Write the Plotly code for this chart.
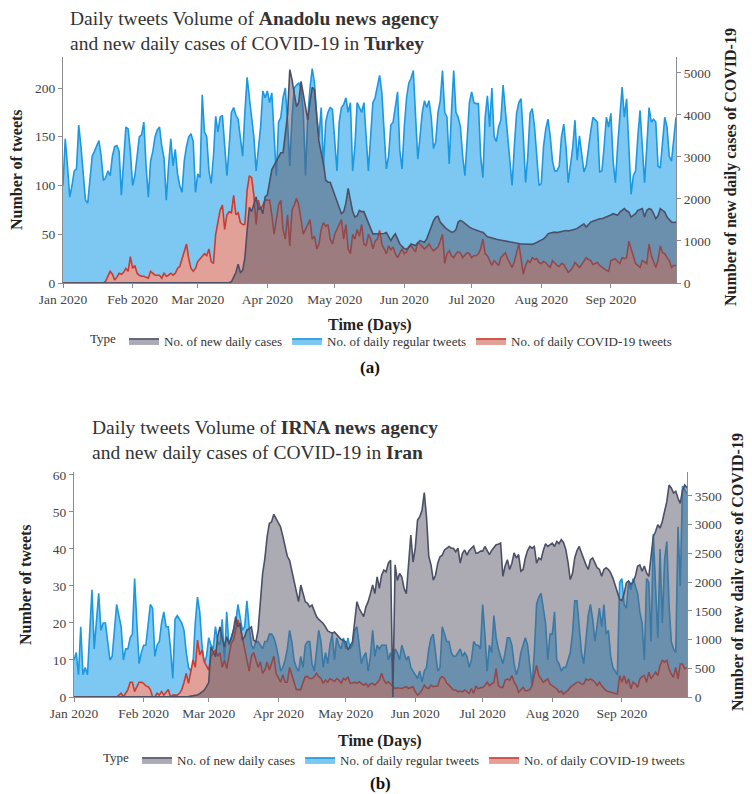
import pandas as pd
import plotly.graph_objects as go

START = "2020-01-01"
N_DAYS = 274

series_names = ["No. of new daily cases", "No. of daily regular tweets", "No. of daily COVID-19 tweets"]

# ---------------- Turkey (Anadolu) ----------------
tr_regular = [
    # Jan
    100, 148, 120, 88, 100, 115, 117, 162, 140, 115, 85, 82, 110, 130, 135, 140, 146, 130, 105, 108, 115,
    110, 130, 140, 141, 135, 90, 125, 160, 158, 135,
    # Feb
    100, 110, 130, 150, 152, 165, 120, 88, 125, 135, 150, 157, 160, 140, 128, 85, 120, 148, 120, 137, 112,
    100, 93, 125, 140, 150, 153, 145, 93,
    # Mar
    112, 108, 193, 155, 150, 115, 102, 130, 171, 155, 170, 172, 140, 110, 140, 175, 180, 172, 168, 150, 130,
    175, 211, 190, 170, 150, 115, 140, 160, 197, 190,
    # Apr
    197, 185, 195, 150, 110, 165, 170, 190, 200, 165, 120, 170, 200, 203, 205, 200, 175, 110, 170, 200, 220,
    205, 170, 150, 180, 120, 165, 175, 180, 178,
    # May
    150, 115, 165, 180, 183, 190, 175, 185, 115, 140, 185, 180, 175, 185, 150, 115, 150, 185, 190, 200, 213,
    195, 150, 117, 130, 162, 165, 180, 196, 136, 117,
    # Jun
    160, 190, 205, 210, 218, 170, 127, 150, 175, 187, 180, 187, 170, 138, 145, 175, 187, 218, 175, 170, 122,
    175, 218, 175, 170, 160, 130, 110, 150, 185,
    # Jul
    196, 185, 184, 184, 130, 108, 170, 192, 160, 200, 150, 145, 160, 167, 203, 175, 150, 120, 100, 140, 174,
    185, 189, 150, 103, 130, 174, 179, 160, 130, 100,
    # Aug
    102, 140, 158, 168, 150, 125, 115, 115, 120, 150, 163, 140, 103, 120, 139, 167, 126, 151, 130, 114, 120,
    140, 155, 170, 168, 165, 114, 115, 140, 170, 160,
    # Sep
    174, 125, 103, 140, 175, 201, 170, 189, 140, 91, 110, 115, 150, 177, 140, 103, 140, 180, 165, 168, 165,
    120, 118, 145, 170, 160, 130, 125, 150, 170,
]

tr_covid = [
    # Jan
    0, 0, 0, 0, 0, 0, 0, 0, 0, 0, 0, 0, 0, 0, 0, 0, 0, 0, 0, 2, 7, 12, 9, 3, 6, 10, 9, 11, 15, 12, 27,
    # Feb
    15, 18, 10, 8, 7, 7, 6, 5, 12, 10, 8, 8, 8, 5, 10, 7, 8, 10, 8, 10, 15, 17, 25, 32, 40, 25, 15, 12, 15,
    # Mar
    22, 25, 28, 30, 28, 35, 22, 20, 50, 62, 75, 80, 55, 70, 73, 72, 90, 70, 72, 62, 60, 60, 95, 110, 108,
    90, 60, 85, 75, 80, 85,
    # Apr
    85, 85, 70, 50, 65, 80, 85, 55, 45, 70, 38, 75, 80, 87, 80, 65, 50, 55, 60, 65, 45, 48, 35, 40, 55, 62,
    58, 60, 45, 40,
    # May
    50, 55, 60, 65, 45, 60, 35, 30, 50, 45, 55, 48, 60, 40, 38, 50, 45, 35, 43, 45, 54, 40, 35, 30, 38, 34,
    37, 30, 26, 30, 35,
    # Jun
    30, 32, 37, 38, 35, 32, 42, 40, 38, 35, 37, 40, 36, 33, 35, 37, 43, 50, 20, 30, 33, 28, 26, 30, 32, 31,
    26, 28, 31, 30,
    # Jul
    26, 28, 28, 30, 35, 45, 30, 28, 22, 18, 23, 20, 18, 26, 28, 31, 25, 21, 16, 22, 30, 40, 25, 9, 18, 23,
    21, 26, 24, 25, 21,
    # Aug
    20, 22, 21, 18, 16, 23, 20, 18, 17, 20, 19, 15, 11, 13, 16, 21, 18, 16, 19, 22, 26, 24, 23, 19, 20, 21,
    18, 16, 14, 13, 12,
    # Sep
    23, 24, 25, 22, 20, 26, 25, 26, 43, 35, 28, 20, 18, 16, 23, 21, 20, 40, 28, 22, 16, 23, 38, 31, 30, 26,
    23, 16, 18, 18,
]

tr_cases = [
    # Jan
    0, 0, 0, 0, 0, 0, 0, 0, 0, 0, 0, 0, 0, 0, 0, 0, 0, 0, 0, 0, 0, 0, 0, 0, 0, 0, 0, 0, 0, 0, 0,
    # Feb
    0, 0, 0, 0, 0, 0, 0, 0, 0, 0, 0, 0, 0, 0, 0, 0, 0, 0, 0, 0, 0, 0, 0, 0, 0, 0, 0, 0, 0,
    # Mar
    0, 0, 0, 0, 0, 0, 0, 0, 0, 0, 0, 0, 0, 0, 10, 30, 140, 250, 450, 250, 300, 600, 1250, 1800, 1700, 1900,
    2050, 1750, 1800, 1650, 2050,
    # Apr
    2100, 2450, 2700, 2800, 2900, 3000, 3100, 3100, 3500, 4000, 5080, 4840, 4500, 4200, 4300, 4800, 4500,
    4200, 3880, 4300, 4660, 4600, 3880, 3360, 3100, 2850, 2450, 2400, 2400, 2250,
    # May
    2050, 1900, 1800, 1650, 1700, 1900, 2250, 1970, 1700, 1570, 1600, 1730, 1700, 1700, 1550, 1410, 1300,
    1170, 1170, 1170, 1180, 1170, 1180, 1200, 1100, 1010, 1100, 1170, 1050, 930, 870,
    # Jun
    820, 800, 850, 930, 900, 890, 950, 1010, 990, 970, 1050, 1210, 1370, 1480, 1570, 1590, 1450, 1380, 1330,
    1280, 1250, 1210, 1220, 1270, 1450, 1490, 1460, 1410, 1370, 1330,
    # Jul
    1300, 1280, 1250, 1230, 1220, 1210, 1150, 1100, 1090, 1070, 1050, 1040, 1030, 1020, 1010, 1000, 990,
    980, 970, 960, 950, 930, 930, 930, 930, 925, 915, 920, 940, 970, 980,
    # Aug
    1010, 1050, 1100, 1170, 1190, 1200, 1210, 1200, 1210, 1220, 1230, 1250, 1240, 1250, 1270, 1280, 1300,
    1330, 1380, 1410, 1330, 1380, 1450, 1470, 1490, 1510, 1530, 1530, 1550, 1570, 1600,
    # Sep
    1620, 1650, 1630, 1610, 1690, 1720, 1770, 1720, 1690, 1570, 1600, 1650, 1730, 1760, 1770, 1570, 1730,
    1770, 1750, 1650, 1530, 1600, 1770, 1730, 1690, 1570, 1500, 1450, 1440, 1450,
]

# ---------------- Iran (IRNA) ----------------
ir_regular = [
    # Jan
    10, 12, 6, 19, 6, 8, 6, 18, 29, 13, 20, 28, 18, 20, 20, 15, 10, 11, 18, 25, 22, 19, 10, 13, 13, 16, 17,
    32, 20, 9, 12,
    # Feb
    14, 14, 20, 25, 24, 11, 14, 15, 20, 23, 19, 19, 13, 5, 21, 22, 21, 20, 18, 12, 8, 7, 9, 20, 27, 23, 14,
    9, 11,
    # Mar
    16, 14, 13, 19, 15, 14, 21, 10, 23, 14, 16, 18, 20, 25, 22, 18, 19, 26, 19, 14, 13, 15, 15, 14, 13, 15,
    15, 17, 17, 16, 14,
    # Apr
    11, 7, 8, 10, 13, 18, 15, 10, 8, 7, 11, 8, 14, 15, 15, 9, 7, 13, 18, 15, 8, 12, 9, 14, 17, 10, 16, 14,
    13, 16,
    # May
    13, 16, 13, 14, 18, 19, 13, 9, 11, 12, 7, 11, 18, 11, 14, 13, 14, 14, 14, 10, 12, 9, 13, 12, 10, 14, 12,
    10, 11, 8, 7,
    # Jun
    6, 5, 7, 4, 7, 8, 13, 16, 17, 12, 7, 8, 19, 17, 15, 15, 12, 11, 11, 12, 13, 11, 12, 11, 8, 10, 15, 14,
    14, 13,
    # Jul
    25, 17, 7, 14, 12, 22, 16, 13, 11, 9, 12, 16, 16, 14, 9, 6, 8, 12, 14, 16, 14, 8, 3, 12, 25, 27, 28, 24,
    20, 10, 17,
    # Aug
    17, 23, 10, 9, 7, 8, 8, 10, 12, 17, 26, 26, 19, 12, 9, 15, 22, 25, 21, 15, 19, 24, 19, 25, 17, 18, 11, 8,
    7, 6, 31,
    # Sep
    32, 25, 24, 31, 29, 32, 30, 28, 23, 20, 10, 32, 31, 15, 44, 30, 16, 40, 20, 37, 42, 25, 15, 13, 12, 46,
    30, 57, 56, 55,
]

ir_covid = [
    # Jan
    0, 0, 0, 0, 0, 0, 0, 0, 0, 0, 0, 0, 0, 0, 0, 0, 0, 0, 0, 0, 0.5, 1, 0, 1, 2, 4, 4, 1.5, 3, 4, 4,
    # Feb
    3.7, 3, 2.8, 2, 0, 0, 1, 0.5, 1.5, 0.5, 1.2, 2, 0, 0.5, 0.5, 0.5, 1, 2, 4, 6.4, 3.7, 6.4, 10, 8, 15.4,
    11.4, 12.7, 9.5, 8.2,
    # Mar
    7.3, 11, 12, 12.7, 11, 12, 8, 10, 7.7, 11, 14.4, 15.4, 18.6, 20.8, 19, 16, 14, 11, 7, 11, 12, 10, 8, 9.5,
    6.4, 7.3, 9.5, 7.3, 9.5, 11, 6.4,
    # Apr
    5, 4, 6, 4, 4, 8, 6, 4, 2, 2, 2, 4, 5.5, 5.5, 5, 5, 5.5, 6.4, 5.5, 5, 3.7, 4.6, 4, 5, 4.6, 4.2, 5, 4.6,
    3.7, 5,
    # May
    4.6, 5.5, 3.7, 3.7, 4, 3.7, 4.1, 3.7, 3.2, 3.7, 2.8, 3.5, 3.7, 3.2, 4, 4.6, 6.4, 4.6, 3.7, 4.1, 3.5, 2.8,
    2.3, 2.5, 2.3, 2.3, 2.6, 2.8, 2.3, 2.5, 2.8,
    # Jun
    1.4, 0.5, 1, 1.9, 3.2, 2.5, 2.3, 3.2, 2.8, 2.8, 3, 5, 5.5, 5, 3.7, 3.2, 2.5, 1.9, 1.9, 1.4, 1.6, 1.4, 1.9,
    1.5, 1, 2.3, 1, 3, 2.2, 2.5,
    # Jul
    2.6, 3.1, 4, 3.1, 3.5, 4, 7.7, 3.1, 2.6, 2.6, 4.5, 4.9, 4.5, 5.8, 4, 3.1, 1.3, 2, 2.6, 1.7, 1.7, 2, 3.1,
    6, 8.5, 5.8, 4.9, 4, 4.5, 4.9, 3.5,
    # Aug
    3, 2.6, 2.2, 1.3, 1.6, 0.8, 1.3, 1.8, 2.6, 3.1, 3.5, 4, 4, 3.5, 3.5, 4.9, 4.5, 4.9, 4.5, 4, 3.1, 4, 3,
    2.2, 1.7, 1.5, 1.3, 1.3, 1, 0.8, 5.8,
    # Sep
    4, 5.8, 3.5, 4.9, 2.2, 4, 3.5, 2.6, 4.9, 5.5, 5.8, 4, 6.7, 4.9, 6, 6.7, 5.8, 8.5, 9.9, 9.4, 9.9, 7.6,
    6.2, 5.3, 8, 4.9, 8.9, 8.9, 7.6, 8,
]

ir_cases = [
    # Jan
    0, 0, 0, 0, 0, 0, 0, 0, 0, 0, 0, 0, 0, 0, 0, 0, 0, 0, 0, 0, 0, 0, 0, 0, 0, 0, 0, 0, 0, 0, 0,
    # Feb
    0, 0, 0, 0, 0, 0, 0, 0, 0, 0, 0, 0, 0, 0, 0, 0, 0, 0, 5, 10, 10, 15, 20, 30, 35, 60, 90, 120, 180,
    # Mar
    250, 875, 790, 700, 1050, 1220, 1020, 875, 1050, 930, 1020, 1165, 1400, 1220, 1280, 990, 1050, 1165,
    1190, 1220, 990, 960, 1165, 1630, 2150, 2410, 2790, 3020, 3050, 3180, 3110,
    # Apr
    3050, 2960, 2800, 2600, 2450, 2380, 2200, 2000, 1800, 1660, 1950, 1800, 1660, 1630, 1570, 1600, 1480,
    1400, 1350, 1310, 1280, 1220, 1150, 1130, 1110, 1130, 1080, 1050, 1000, 990,
    # May
    960, 820, 900, 960, 1310, 1660, 1540, 1480, 1400, 1570, 1660, 1800, 1950, 1800, 2090, 1890, 2120, 2210,
    2180, 2330, 2380, 0, 2300, 2030, 2150, 2090, 1890, 1800, 2260, 2820, 2350,
    # Jun
    2600, 3080, 3140, 3250, 3560, 3130, 2450, 2300, 2035, 2120, 2330, 2440, 2470, 2560, 2590, 2620, 2590,
    2590, 2530, 2590, 2330, 2500, 2560, 2470, 2550, 2600, 2630, 2500, 2510, 2540,
    # Jul
    2540, 2620, 2560, 2480, 2550, 2600, 2650, 2660, 2680, 2100, 2280, 2390, 2220, 2330, 2510, 2420, 2480,
    2190, 2220, 2420, 2550, 2620, 2590, 2620, 2330, 2420, 2390, 2550, 2670, 2620, 2650,
    # Aug
    2680, 2620, 2710, 2670, 2740, 2690, 2570, 2350, 2045, 2150, 2420, 2550, 2620, 2510, 2400, 2300, 2220,
    2390, 2420, 2330, 2250, 2220, 2100, 2220, 2250, 2220, 2160, 2070, 1950, 1800, 1700,
    # Sep
    1680, 1800, 1990, 2020, 1960, 2000, 2100, 2275, 2300, 2190, 2280, 2160, 2100, 2400, 2800, 2880, 3000,
    2940, 3055, 3230, 3400, 3690, 3640, 3550, 3580, 3460, 3370, 3600, 3690, 3640,
]

for _name, _arr in [("tr_regular", tr_regular), ("tr_covid", tr_covid), ("tr_cases", tr_cases),
                    ("ir_regular", ir_regular), ("ir_covid", ir_covid), ("ir_cases", ir_cases)]:
    assert len(_arr) == N_DAYS, (_name, len(_arr))

# ---------------- styling ----------------
FONT = "Liberation Serif"
AXC = "#8c8c8c"
TICKFONT = dict(family=FONT, size=13.5, color="#444444")
BLUE_LINE, BLUE_FILL = "#1a98e2", "rgb(125,200,242)"
RED_LINE, RED_FILL = "#cc3b2e", "rgb(225,160,152)"
GRAY_LINE, GRAY_FILL = "#4b5066", "rgba(89,88,104,0.5)"

fig = go.Figure()


def add_country(cases, regular, covid, xa, ya, ya2, legend):
    dates = pd.date_range(START, periods=N_DAYS, freq="D")
    fig.add_trace(go.Scatter(x=dates, y=regular, name=series_names[1], mode="lines",
                             line=dict(color=BLUE_LINE, width=1.6), fill="tozeroy", fillcolor=BLUE_FILL,
                             xaxis=xa, yaxis=ya, legend=legend, legendrank=2))
    fig.add_trace(go.Scatter(x=dates, y=covid, name=series_names[2], mode="lines",
                             line=dict(color=RED_LINE, width=1.6), fill="tozeroy", fillcolor=RED_FILL,
                             xaxis=xa, yaxis=ya, legend=legend, legendrank=3))
    fig.add_trace(go.Scatter(x=dates, y=cases, name=series_names[0], mode="lines",
                             line=dict(color=GRAY_LINE, width=1.6), fill="tozeroy", fillcolor=GRAY_FILL,
                             xaxis=xa, yaxis=ya2, legend=legend, legendrank=1))


add_country(tr_cases, tr_regular, tr_covid, "x", "y", "y2", "legend")
add_country(ir_cases, ir_regular, ir_covid, "x2", "y3", "y4", "legend2")

# The page body adds an 8px margin, so the figure is drawn 8px in from the window's corner.
OFF = 8
W, H = 752 - OFF, 794 - OFF


def px(v):
    return (v - OFF) / W


def py(v):
    return 1 - (v - OFF) / H


def xaxis_cfg(left, right, anchor):
    return dict(domain=[px(left), px(right)], anchor=anchor, type="date", automargin=False,
                range=["2020-01-01", "2020-09-30"], tick0="2020-01-01", dtick="M1", tickformat="%b %Y",
                ticks="outside", ticklen=4, tickcolor=AXC, showline=True, linecolor=AXC, linewidth=1,
                showgrid=False, zeroline=False, tickfont=TICKFONT)


def yaxis_cfg(top, bottom, rng, dtick, anchor, side="left", overlaying=None):
    d = dict(range=rng, dtick=dtick, anchor=anchor, side=side, ticks="outside", ticklen=4, tickcolor=AXC,
             showline=True, linecolor=AXC, linewidth=1, showgrid=False, zeroline=False, tickfont=TICKFONT,
             tickformat="d", automargin=False)
    if overlaying:
        d["overlaying"] = overlaying
    else:
        d["domain"] = [py(bottom), py(top)]
    return d


legend_common = dict(orientation="h", xanchor="left", yanchor="middle", bgcolor="rgba(0,0,0,0)",
                     font=dict(family=FONT, size=13, color="#333333"), itemwidth=30,
                     title=dict(text="Type", font=dict(family=FONT, size=13, color="#333333")))

fig.update_layout(
    template="none",
    width=W, height=H, margin=dict(l=0, r=0, t=0, b=0, autoexpand=False),
    paper_bgcolor="white", plot_bgcolor="white",
    font=dict(family=FONT, color="#333333"),
    xaxis=xaxis_cfg(63, 676, "y"),
    yaxis=yaxis_cfg(57, 283, [0, 231.8], 50, "x"),
    yaxis2=yaxis_cfg(57, 283, [0, 5380], 1000, "x", side="right", overlaying="y"),
    xaxis2=xaxis_cfg(74, 687, "y3"),
    yaxis3=yaxis_cfg(472, 697, [0, 60.8], 10, "x2"),
    yaxis4=yaxis_cfg(472, 697, [0, 3917], 500, "x2", side="right", overlaying="y3"),
    legend=dict(x=px(88), y=py(341), **legend_common),
    legend2=dict(x=px(101), y=py(760), **legend_common),
    showlegend=True,
)

annotations = [
    # titles
    dict(x=px(68), y=py(31), xanchor="left", yanchor="middle", align="left",
         text="Daily tweets Volume of <b>Anadolu news agency</b><br>and new daily cases of COVID-19 in <b>Turkey</b>",
         font=dict(family=FONT, size=19.5, color="#333333")),
    dict(x=px(90), y=py(440), xanchor="left", yanchor="middle", align="left",
         text="Daily tweets Volume of <b>IRNA news agency</b><br>and new daily cases of COVID-19 in <b>Iran</b>",
         font=dict(family=FONT, size=19.5, color="#333333")),
    # y-axis titles
    dict(x=px(16), y=py(170), textangle=-90, text="<b>Number of tweets</b>",
         font=dict(family=FONT, size=16, color="#222222")),
    dict(x=px(25), y=py(585), textangle=-90, text="<b>Number of tweets</b>",
         font=dict(family=FONT, size=16, color="#222222")),
    dict(x=px(731), y=py(167), textangle=-90, text="<b>Number of new daily cases of COVID-19</b>",
         font=dict(family=FONT, size=16, color="#222222")),
    dict(x=px(738), y=py(572), textangle=-90, text="<b>Number of new daily cases of COVID-19</b>",
         font=dict(family=FONT, size=16, color="#222222")),
    # x-axis titles
    dict(x=px(370), y=py(325), text="<b>Time (Days)</b>", font=dict(family=FONT, size=16, color="#222222")),
    dict(x=px(380), y=py(741), text="<b>Time (Days)</b>", font=dict(family=FONT, size=16, color="#222222")),
    # panel labels
    dict(x=px(370), y=py(367), text="<b>(a)</b>", font=dict(family=FONT, size=17, color="#111111")),
    dict(x=px(380), y=py(783), text="<b>(b)</b>", font=dict(family=FONT, size=17, color="#111111")),
]
for a in annotations:
    a.setdefault("xref", "paper")
    a.setdefault("yref", "paper")
    a.setdefault("xanchor", "center")
    a.setdefault("yanchor", "middle")
    a.setdefault("showarrow", False)
fig.update_layout(annotations=annotations)

fig.write_html("out.html")
